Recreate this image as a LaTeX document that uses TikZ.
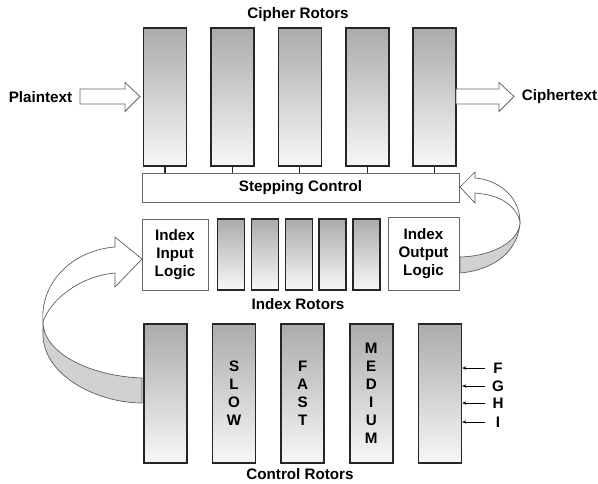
\documentclass[tikz,border=0pt]{standalone}
\usepackage{fontspec}
\setmainfont{Liberation Sans}
\usetikzlibrary{arrows.meta}

\tikzset{
  rotor/.style={draw=black!85,line width=1.2pt,top color=black!33,bottom color=black!3,
    minimum width=32.25pt,minimum height=103.5pt,inner sep=0pt,align=center},
  smallrotor/.style={rotor,minimum width=20.25pt,minimum height=53.25pt},
  logicbox/.style={draw=black!60,line width=0.6pt,fill=white,inner sep=0pt,align=center},
  blockarrow/.style={draw=black!60,line width=0.6pt,fill=white,line join=miter},
  ribbon/.style={draw=black!65,line width=0.5pt},
  fgarrow/.style={draw=black,line width=0.7pt,-{Stealth[length=3pt,width=2.5pt]}},
}

\begin{document}
\begin{tikzpicture}[x=0.75pt,y=-0.75pt,
  every node/.style={font=\bfseries\fontsize{11.4}{13.5}\selectfont}]
\useasboundingbox (0,0) rectangle (598,483);

% feedback ribbons
\draw[ribbon,fill=black!18] (142,378) .. controls (88,376) and (43,352) .. (43,322)
  -- (43,337) .. controls (46,378) and (100,403) .. (142,403) -- cycle;
\draw[ribbon,fill=white] (43,322) .. controls (40,280) and (75,250) .. (115,247)
  -- (115,237) -- (142,259) -- (115,287) -- (115,273)
  .. controls (80,276) and (50,300) .. (43,322) -- cycle;
\draw[ribbon,fill=black!18] (460,257) .. controls (495,256) and (520,240) .. (520,222)
  .. controls (519,250) and (495,270) .. (460,273) -- cycle;
\draw[ribbon,fill=white] (520,222) .. controls (520,198) and (500,180) .. (475,178)
  -- (475,172) -- (460,187) -- (475,203) -- (475,193)
  .. controls (500,195) and (516,205) .. (520,222) -- cycle;

% cipher rotors
\node (ctitle) at (298,15) {Cipher Rotors};
\node[rotor] (c1) at (165,97) {};
\node[rotor] (c2) at (232.4,97) {};
\node[rotor] (c3) at (299.8,97) {};
\node[rotor] (c4) at (367.2,97) {};
\node[rotor] (c5) at (434.6,97) {};

\node (plain) at (40.5,97) {Plaintext};
\node (cipher) at (559.5,97) {Ciphertext};
\draw[blockarrow] (80,89) -- (125,89) -- (125,82.5) -- (140,96.5) -- (125,111.5)
  -- (125,104) -- (80,104) -- cycle;
\draw[blockarrow] (456,89) -- (499,89) -- (499,82.5) -- (514,96.5) -- (499,111.5)
  -- (499,104) -- (456,104) -- cycle;

\node[logicbox,minimum width=237.75pt,minimum height=21.75pt] (step) at (300.5,187.5) {Stepping Control};
\draw[line width=1pt,black!85] (c1.south) -- (c1.south |- step.north);
\draw[line width=1pt,black!85] (c2.south) -- (c2.south |- step.north);
\draw[line width=1pt,black!85] (c3.south) -- (c3.south |- step.north);
\draw[line width=1pt,black!85] (c4.south) -- (c4.south |- step.north);
\draw[line width=1pt,black!85] (c5.south) -- (c5.south |- step.north);

% index rotors
\node[logicbox,minimum width=49.5pt,minimum height=53.25pt] (inlogic) at (175,254.5) {Index\\Input\\Logic};
\node[smallrotor] (i1) at (231,254.5) {};
\node[smallrotor] (i2) at (264.9,254.5) {};
\node[smallrotor] (i3) at (298.8,254.5) {};
\node[smallrotor] (i4) at (332.7,254.5) {};
\node[smallrotor] (i5) at (366.6,254.5) {};
\node[logicbox,minimum width=53.25pt,minimum height=54.75pt] (outlogic) at (423.5,253.5) {Index\\Output\\Logic};
\node (ititle) at (298,304) {Index Rotors};

% control rotors
\node[rotor,minimum height=104.25pt] (k1) at (165.5,393.5) {};
\node[rotor,minimum height=104.25pt] (k2) at (234.1,393.5) {S\\L\\O\\W};
\node[rotor,minimum height=104.25pt] (k3) at (302.7,393.5) {F\\A\\S\\T};
\node[rotor,minimum height=104.25pt] (k4) at (371.3,393.5) {M\\E\\D\\I\\U\\M};
\node[rotor,minimum height=104.25pt] (k5) at (439.9,393.5) {};
\node (ktitle) at (300,474) {Control Rotors};

\node[minimum width=19.5pt,inner sep=0pt] (F) at (498,368) {F};
\node[minimum width=19.5pt,inner sep=0pt] (G) at (498,386) {G};
\node[minimum width=19.5pt,inner sep=0pt] (H) at (498,403) {H};
\node[minimum width=19.5pt,inner sep=0pt] (I) at (498,422) {I};
\draw[fgarrow] (F.west) -- (F.west -| k5.east);
\draw[fgarrow] (G.west) -- (G.west -| k5.east);
\draw[fgarrow] (H.west) -- (H.west -| k5.east);
\draw[fgarrow] (I.west) -- (I.west -| k5.east);
\end{tikzpicture}
\end{document}
